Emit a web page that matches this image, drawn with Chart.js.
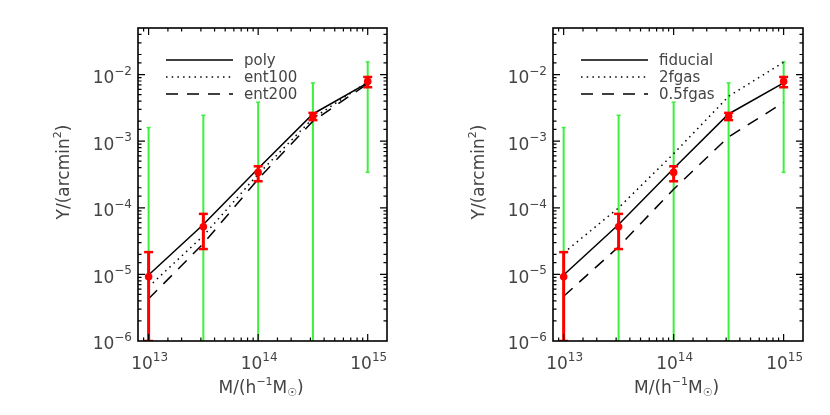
<!DOCTYPE html>
<html>
<head>
<meta charset="utf-8">
<script src="https://cdn.jsdelivr.net/npm/chart.js@4/dist/chart.umd.min.js"></script>
<style>
  html, body { margin: 0; padding: 0; background: #fff; }
  #wrap { position: relative; width: 830px; height: 415px; }
  .panel { position: absolute; top: 0; width: 415px; height: 415px; }
</style>
</head>
<body>
<div id="wrap">
  <div class="panel" style="left:0"><canvas id="leftChart" width="415" height="415"></canvas></div>
  <div class="panel" style="left:415px"><canvas id="rightChart" width="415" height="415"></canvas></div>
</div>
<script>
// halo mass bins and measured Y with errors (same in both panels)
const masses = [1e13, 3.16e13, 1e14, 3.16e14, 1e15];
const yMean = [9.2e-6, 5.2e-5, 3.4e-4, 2.37e-3, 7.9e-3];
const yErrLow = [1e-6, 2.4e-5, 2.5e-4, 2.07e-3, 6.45e-3];
const yErrHigh = [2.16e-5, 8.1e-5, 4.2e-4, 2.66e-3, 9.2e-3];
const scatterLow = [1e-7, 1e-7, 1e-7, 1e-7, 3.4e-4];
const scatterHigh = [1.6e-3, 2.45e-3, 3.85e-3, 7.5e-3, 1.55e-2];

// left panel models
const poly = [9.8e-6, 5.6e-5, 3.9e-4, 2.56e-3, 7.5e-3];
const ent100 = [6.5e-6, 3.8e-5, 3.2e-4, 2.2e-3, 7.8e-3];
const ent200 = [4.3e-6, 2.9e-5, 2.7e-4, 2.0e-3, 7.3e-3];

// right panel models
const fiducial = [9.8e-6, 5.6e-5, 3.9e-4, 2.56e-3, 7.5e-3];
const fgas2 = [2.1e-5, 1.0e-4, 6.5e-4, 4.7e-3, 1.53e-2];
const fgas05 = [4.7e-6, 2.6e-5, 1.9e-4, 1.16e-3, 3.8e-3];

// tick labels: decade values and their exponent text
const xDecades = [1e13, 1e14, 1e15];
const xTickExp = ['13', '14', '15'];
const yDecades = [1e-6, 1e-5, 1e-4, 1e-3, 1e-2];
const yTickExp = ['−6', '−5', '−4', '−3', '−2'];

const RED = '#ff0000';
const GREEN = '#3cf03c';
const TEXT = '#444';
const FONT = "'DejaVu Sans', sans-serif";

function isDecade(v) {
    const l = Math.log10(v);
    return Math.abs(l - Math.round(l)) < 1e-6;
}

function expFor(v, decades, exps) {
    const i = decades.findIndex(d => Math.abs(v / d - 1) < 1e-6);
    return i >= 0 ? exps[i] : null;
}

// draws text pieces with super/subscripts; align 'center' or 'right'
function drawRich(ctx, parts, x0, cy, rot, align, big, small) {
    big = big || 17; small = small || 11;
    ctx.save();
    ctx.translate(x0, cy);
    if (rot) ctx.rotate(rot);
    ctx.fillStyle = TEXT;
    ctx.textBaseline = 'middle';
    ctx.textAlign = 'left';
    let total = 0;
    parts.forEach(p => {
        ctx.font = (p[1] ? small : big) + 'px ' + FONT;
        p.w = ctx.measureText(p[0]).width;
        total += p.w;
    });
    let x = align === 'right' ? -total : -total / 2;
    parts.forEach(p => {
        ctx.font = (p[1] ? small : big) + 'px ' + FONT;
        const dy = p[1] === 1 ? -big * 0.42 : p[1] === -1 ? big * 0.25 : 0;
        ctx.fillText(p[0], x, dy);
        x += p.w;
    });
    ctx.restore();
}

const framePlugin = {
    id: 'frame',
    afterDraw(chart) {
        const { ctx, chartArea: a, scales } = chart;
        ctx.save();
        ctx.strokeStyle = '#000';
        ctx.lineWidth = 1.6;
        ctx.strokeRect(a.left, a.top, a.right - a.left, a.bottom - a.top);
        ctx.lineWidth = 1.2;
        ctx.beginPath();
        scales.x.ticks.forEach(t => {
            const px = scales.x.getPixelForValue(t.value);
            if (px < a.left + 1 || px > a.right - 1) return;
            const len = isDecade(t.value) ? 7 : 3.5;
            ctx.moveTo(px, a.bottom); ctx.lineTo(px, a.bottom - len);
            ctx.moveTo(px, a.top); ctx.lineTo(px, a.top + len);
        });
        scales.y.ticks.forEach(t => {
            const py = scales.y.getPixelForValue(t.value);
            if (py < a.top + 1 || py > a.bottom - 1) return;
            const len = isDecade(t.value) ? 7 : 3.5;
            ctx.moveTo(a.left, py); ctx.lineTo(a.left + len, py);
            ctx.moveTo(a.right, py); ctx.lineTo(a.right - len, py);
        });
        ctx.stroke();

        // tick labels with real superscripts
        scales.x.ticks.forEach(t => {
            const e = expFor(t.value, xDecades, xTickExp);
            if (e === null) return;
            drawRich(ctx, [['10', 0], [e, 1]], scales.x.getPixelForValue(t.value) + 1, a.bottom + 24, 0, 'center', 17, 12);
        });
        scales.y.ticks.forEach(t => {
            const e = expFor(t.value, yDecades, yTickExp);
            if (e === null) return;
            drawRich(ctx, [['10', 0], [e, 1]], a.left - 6, scales.y.getPixelForValue(t.value) + 4, 0, 'right', 17, 12);
        });

        // legend
        const items = chart.data.datasets.filter(d => d.inLegend);
        items.forEach((d, i) => {
            const y = a.top + 32 + i * 17;
            ctx.strokeStyle = '#000';
            ctx.lineWidth = 1.5;
            ctx.setLineDash(d.borderDash || []);
            ctx.beginPath();
            ctx.moveTo(a.left + 28, y);
            ctx.lineTo(a.left + 95, y);
            ctx.stroke();
            ctx.setLineDash([]);
            ctx.fillStyle = TEXT;
            ctx.font = '15px ' + FONT;
            ctx.textBaseline = 'middle';
            ctx.fillText(d.label, a.left + 106, y + 1);
        });

        // axis titles
        drawRich(ctx, [['Y/(arcmin', 0], ['2', 1], [')', 0]], 65, 172, -Math.PI / 2);
        const xc = (scales.x.getPixelForValue(xDecades[0]) + scales.x.getPixelForValue(xDecades[2])) / 2;
        drawRich(ctx, [['M/(h', 0], ['−1', 1], ['M', 0], ['☉', -1], [')', 0]], xc + 3, 389, 0);
        ctx.restore();
    }
};

function buildDatasets(models, names, dashes) {
    const ds = [];
    masses.forEach((m, i) => {
        ds.push({
            order: 3,
            data: [{ x: m, y: scatterLow[i] }, { x: m, y: scatterHigh[i] }],
            borderColor: GREEN, borderWidth: 2,
            pointStyle: 'line', pointRadius: 2, pointBorderColor: GREEN, pointBorderWidth: 1.5
        });
    });
    models.forEach((vals, k) => {
        ds.push({
            order: 2,
            label: names[k], inLegend: true,
            data: masses.map((m, i) => ({ x: m, y: vals[i] })),
            borderColor: '#000', borderWidth: 1.5, borderDash: dashes[k],
            pointRadius: 0, tension: 0
        });
    });
    masses.forEach((m, i) => {
        ds.push({
            order: 1,
            data: [{ x: m, y: yErrLow[i] }, { x: m, y: yErrHigh[i] }],
            borderColor: RED, borderWidth: 3,
            pointStyle: 'line', pointRadius: 4.5, pointBorderColor: RED, pointBorderWidth: 2.5
        });
    });
    ds.push({
        order: 0,
        data: masses.map((m, i) => ({ x: m, y: yMean[i] })),
        showLine: false, pointRadius: 3.8,
        pointBackgroundColor: RED, pointBorderColor: RED, pointBorderWidth: 0
    });
    return ds;
}

function makeChart(id, models, names, padRight) {
    new Chart(document.getElementById(id), {
        type: 'line',
        data: { datasets: buildDatasets(models, names, [[], [1.5, 4.2], [12, 9]]) },
        options: {
            responsive: false,
            animation: false,
            layout: { padding: { top: 28, right: padRight, left: 0, bottom: 0 } },
            plugins: { legend: { display: false }, tooltip: { enabled: false } },
            scales: {
                x: {
                    type: 'logarithmic', min: 8e12, max: 1.5e15,
                    grid: { display: false }, border: { display: false },
                    ticks: { display: false, autoSkip: false },
                    afterFit(s) { s.height = 74; }
                },
                y: {
                    type: 'logarithmic', min: 1e-6, max: 5e-2,
                    grid: { display: false }, border: { display: false },
                    ticks: { display: false, autoSkip: false },
                    afterFit(s) { s.width = 138; }
                }
            }
        },
        plugins: [framePlugin]
    });
}

makeChart('leftChart', [poly, ent100, ent200], ['poly', 'ent100', 'ent200'], 28);
makeChart('rightChart', [fiducial, fgas2, fgas05], ['fiducial', '2fgas', '0.5fgas'], 27);
</script>
</body>
</html>
